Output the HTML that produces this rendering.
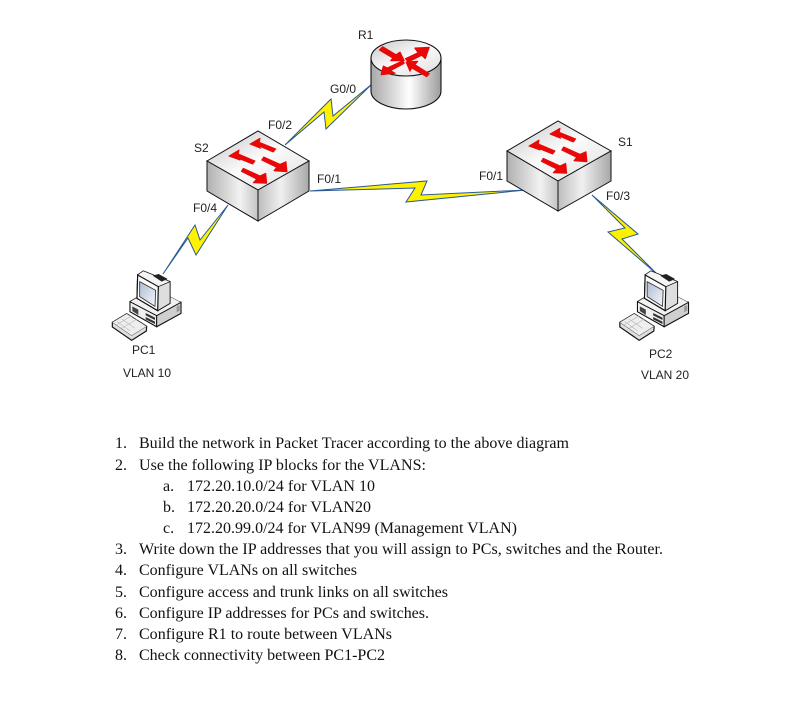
<!DOCTYPE html>
<html><head><meta charset="utf-8"><style>
html,body{margin:0;padding:0;background:#fff}
svg{display:block}
.l{font-family:"Liberation Sans",sans-serif;font-size:12px;fill:#222}
.t{font-family:"Liberation Serif",serif;font-size:16px;fill:#111}
</style></head><body>
<svg width="805" height="721" viewBox="0 0 805 721" xmlns="http://www.w3.org/2000/svg">
<defs>
<linearGradient id="cyl" x1="0" x2="1" y1="0" y2="0"><stop offset="0" stop-color="#a8a8a8"/><stop offset=".55" stop-color="#fff"/><stop offset="1" stop-color="#9c9c9c"/></linearGradient>
<linearGradient id="top" x1="0" x2="1" y1="0" y2="1"><stop offset="0" stop-color="#c4c4c4"/><stop offset=".5" stop-color="#fbfbfb"/><stop offset="1" stop-color="#dcdcdc"/></linearGradient>
<linearGradient id="fl" x1="0" x2="1" y1="0" y2="0"><stop offset="0" stop-color="#b0b0b0"/><stop offset=".65" stop-color="#f2f2f2"/><stop offset="1" stop-color="#c4c4c4"/></linearGradient>
<linearGradient id="fr" x1="0" x2="1" y1="0" y2="0"><stop offset="0" stop-color="#bdbdbd"/><stop offset=".45" stop-color="#f0f0f0"/><stop offset="1" stop-color="#a8a8a8"/></linearGradient>
<linearGradient id="scr" x1="0" x2="1" y1="0" y2="1"><stop offset="0" stop-color="#aebcd2"/><stop offset="1" stop-color="#f6f8fb"/></linearGradient>
<g id="arr" fill="#e80808" stroke="#e80808" stroke-width="1" stroke-linejoin="round">
<polygon points="43,13 53,7.3 52.3,11.3 68.7,18 66.3,21 51.3,14.7 53.7,17.3"/>
<polygon points="22,25 32,19 31.3,23 48,30 45.7,33 30.7,27 33,29"/>
<polygon points="56.7,26 73,33.3 79,30.7 80,40.7 67,39.7 69.7,36.3 54.7,29"/>
<polygon points="36.3,37.3 53,45 58.7,42.3 59.7,52.3 46.3,51.7 49.7,48 34.3,40.3"/>
</g>
<g id="pc" transform="scale(.3333)">
<polygon points="22,172 65,146 125,184 124,198 80,226 22,186" fill="#dedede" stroke="#111" stroke-width="3.5"/>
<polygon points="22,172 65,146 125,184 80,212" fill="#eeeeee" stroke="#444" stroke-width="1.5"/>
<path d="M36,170l40,28M50,162l40,28M34,180l46,-28M50,190l46,-28" stroke="#bbb" stroke-width="2" fill="none"/>
<polygon points="75,110 118,85 228,112 228,145 155,185 75,140" fill="#dcdcdc" stroke="#111" stroke-width="3.5"/>
<polygon points="75,110 155,152 228,112 170,82 118,85" fill="#f2f2f2" stroke="#333" stroke-width="1.5"/>
<polygon points="75,110 155,152 155,185 75,140" fill="#f0f0f0" stroke="#111" stroke-width="3"/>
<polygon points="155,152 228,112 228,145 155,185" fill="#cfcfcf" stroke="#111" stroke-width="3"/>
<polygon points="82,124 100,134 100,150 82,138" fill="#444"/>
<polygon points="122,144 150,158 150,165 122,151" fill="#333"/>
<polygon points="122,156 150,170 150,177 122,163" fill="#333"/>
<polygon points="215,125 224,120 224,137 215,142" fill="#999"/>
<polygon points="98,30 115,18 195,50 195,115 158,137 96,100" fill="#e4e4e4" stroke="#111" stroke-width="3.5"/>
<polygon points="98,30 115,18 195,50 160,65" fill="#f5f5f5" stroke="#222" stroke-width="1.5"/>
<polygon points="143,32 161,27 188,42 170,50" fill="#222"/>
<polygon points="160,65 195,50 195,115 158,137" fill="#dedede" stroke="#111" stroke-width="2"/>
<polygon points="98,30 160,65 158,137 96,100" fill="#fafafa" stroke="#111" stroke-width="3.5"/>
<polygon points="104,50 152,76 150,124 104,95" fill="url(#scr)" stroke="#333" stroke-width="2.5"/>
</g>
</defs>

<!-- Lightning links -->
<g fill="#fff200" stroke="#2a5a94" stroke-width="1" stroke-linejoin="miter">
<polygon points="285,145 331,99 333,116 372,84 326,129 324,112"/>
<polygon points="310,191 427,181 421,195 526,190 406,202 415,188"/>
<polygon points="163,274 195,225 200,240 228,205 196,255 188,238"/>
<polygon points="592,195 638,234 622,239 658,275 608,232 625,228"/>
</g>

<!-- R1 -->
<path d="M371,58 V91 C371,101 387,109 406,109 C425,109 441,101 441,91 V58 Z" fill="url(#cyl)" stroke="#111" stroke-width="1.1"/>
<ellipse cx="406" cy="58" rx="35" ry="18" fill="url(#top)" stroke="#111" stroke-width="1.1"/>
<g fill="#e80808" stroke="#e80808" stroke-width="1" stroke-linejoin="round">
<polygon points="382.7,46.7 396,54.7 400,52 404.3,60.7 390.7,60.7 392.7,58 379.3,50"/>
<polygon points="429.3,47.3 425.3,58.7 421.7,55.3 408.3,62 405.3,58.7 418,52.7 414.7,48"/>
<polygon points="381,74.7 383.3,66 387.3,68 402.7,60.7 404.3,63.3 390.7,70.7 395.3,73.3"/>
<polygon points="406,62 417.7,61.3 415,64.7 429.3,73.7 426.7,76.7 411.7,68 410,71.3"/>
</g>

<!-- S2 -->
<g transform="translate(207,131)">
<polygon points="0,30 51,0 102,30 51,59" fill="url(#top)" stroke="#111"/>
<polygon points="0,30 51,59 51,90 0,60" fill="url(#fl)" stroke="#111"/>
<polygon points="51,59 102,30 102,60 51,90" fill="url(#fr)" stroke="#111"/>
<use href="#arr"/>
</g>
<!-- S1 -->
<g transform="translate(507,121)">
<polygon points="0,30 51,0 104,30 51,60" fill="url(#top)" stroke="#111"/>
<polygon points="0,30 51,60 51,90 0,60" fill="url(#fl)" stroke="#111"/>
<polygon points="51,60 104,30 104,60 51,90" fill="url(#fr)" stroke="#111"/>
<use href="#arr"/>
</g>

<!-- PCs -->
<use href="#pc" transform="translate(105,265)"/>
<use href="#pc" transform="translate(612.5,265)"/>

<!-- Labels -->
<text class="l" x="358" y="39">R1</text>
<text class="l" x="330" y="93">G0/0</text>
<text class="l" x="268" y="129">F0/2</text>
<text class="l" x="194" y="152">S2</text>
<text class="l" x="317" y="183">F0/1</text>
<text class="l" x="479" y="180">F0/1</text>
<text class="l" x="618" y="146">S1</text>
<text class="l" x="606" y="200">F0/3</text>
<text class="l" x="193" y="212">F0/4</text>
<text class="l" x="132" y="354">PC1</text>
<text class="l" x="123" y="377">VLAN 10</text>
<text class="l" x="649" y="358">PC2</text>
<text class="l" x="641" y="379">VLAN 20</text>

<!-- List -->
<text class="t" x="115" y="448">1.</text><text class="t" x="139" y="448" textLength="430" lengthAdjust="spacing">Build the network in Packet Tracer according to the above diagram</text>
<text class="t" x="115" y="470">2.</text><text class="t" x="139" y="470" textLength="287" lengthAdjust="spacing">Use the following IP blocks for the VLANS:</text>
<text class="t" x="163" y="491">a.</text><text class="t" x="187" y="491" textLength="188" lengthAdjust="spacing">172.20.10.0/24 for VLAN 10</text>
<text class="t" x="163" y="512">b.</text><text class="t" x="187" y="512" textLength="184" lengthAdjust="spacing">172.20.20.0/24 for VLAN20</text>
<text class="t" x="163" y="533">c.</text><text class="t" x="187" y="533" textLength="330" lengthAdjust="spacing">172.20.99.0/24 for VLAN99 (Management VLAN)</text>
<text class="t" x="115" y="554">3.</text><text class="t" x="139" y="554" textLength="524" lengthAdjust="spacing">Write down the IP addresses that you will assign to PCs, switches and the Router.</text>
<text class="t" x="115" y="575">4.</text><text class="t" x="139" y="575" textLength="218" lengthAdjust="spacing">Configure VLANs on all switches</text>
<text class="t" x="115" y="597">5.</text><text class="t" x="139" y="597" textLength="309" lengthAdjust="spacing">Configure access and trunk links on all switches</text>
<text class="t" x="115" y="618">6.</text><text class="t" x="139" y="618" textLength="290" lengthAdjust="spacing">Configure IP addresses for PCs and switches.</text>
<text class="t" x="115" y="639">7.</text><text class="t" x="139" y="639" textLength="253" lengthAdjust="spacing">Configure R1 to route between VLANs</text>
<text class="t" x="115" y="660">8.</text><text class="t" x="139" y="660" textLength="246" lengthAdjust="spacing">Check connectivity between PC1-PC2</text>
</svg>
</body></html>
